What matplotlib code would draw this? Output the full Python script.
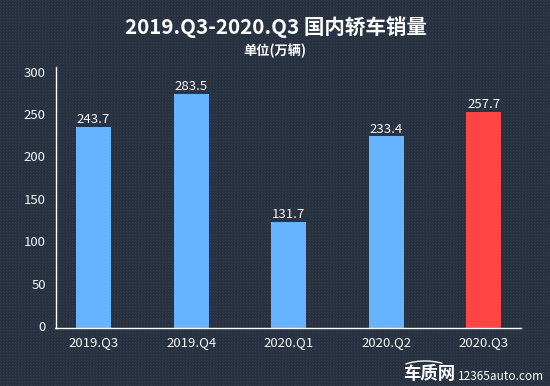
import numpy as np
import matplotlib
matplotlib.use('Agg')
import matplotlib.pyplot as plt
from matplotlib.patches import Arc
from matplotlib.transforms import ScaledTranslation

plt.rcParams['font.family'] = ['Noto Sans CJK SC', 'DejaVu Sans']

# Data
quarters = ['2019.Q3', '2019.Q4', '2020.Q1', '2020.Q2', '2020.Q3']
bar_heights = [237, 276, 125, 226, 255]  # as drawn in the picture
bar_labels = ['243.7', '283.5', '131.7', '233.4', '257.7']
bar_colors = ['#66b3ff', '#66b3ff', '#66b3ff', '#66b3ff', '#ff4444']
y_ticks = [0, 50, 100, 150, 200, 250, 300]

W, H = 550, 386
fig = plt.figure(figsize=(W/100, H/100), dpi=100, facecolor='#283242')

# dotted background texture
tex = np.zeros((H, W, 3)) + np.array([0x27, 0x31, 0x40])/255
tex[::3, ::3] = np.array([0x33, 0x3d, 0x4d])/255
tex[1::3, 1::3] = np.array([0x2e, 0x38, 0x48])/255
fig.figimage(tex, 0, 0, zorder=0)

ax = fig.add_axes([55.5/W, 1-328/H, (521-55.5)/W, (328-67)/H])
ax.set_zorder(1)
ax.patch.set_alpha(0)
x = np.arange(len(quarters))
ax.bar(x, bar_heights, width=0.36, color=bar_colors)
ax.set_xlim(-0.39, 4.38)
ax.set_ylim(0, 308)
for s in ['top', 'right']:
    ax.spines[s].set_visible(False)
for s in ['left', 'bottom']:
    ax.spines[s].set_color('white')
    ax.spines[s].set_linewidth(1)
ax.set_xticks(x, quarters)
ax.set_yticks(y_ticks)
ax.tick_params(length=0, colors='#f7f7f7', labelsize=9.5)
ax.tick_params(axis='x', pad=6)
ax.tick_params(axis='y', pad=7)
# y labels sit a little above their ticks
for lab in ax.get_yticklabels():
    lab.set_transform(lab.get_transform() + ScaledTranslation(0, 1.5/72, fig.dpi_scale_trans))
for i in x:
    ax.annotate(bar_labels[i], (i, bar_heights[i]), xytext=(0, 0.5), textcoords='offset points',
                ha='center', va='bottom', color='#f7f7f7', fontsize=9.5)

fig.text(276/W, 1-27/H, '2019.Q3-2020.Q3 国内轿车销量', ha='center', va='center',
         color='white', fontsize=14.8, fontweight='bold', zorder=2)
fig.text(275/W, 1-51/H, '单位(万辆)', ha='center', va='center', color='white',
         fontsize=9.5, fontweight='bold', zorder=2)

# watermark
fig.text(429/W, 1-374/H, '车质网', ha='center', va='center', color='white',
         fontsize=12.5, fontweight='bold', zorder=2)
fig.text(501/W, 1-376/H, '12365auto.com', ha='center', va='center', color='white',
         fontsize=8.5, zorder=2)
fig.add_artist(Arc((425/W, 1-372/H), 56/W, 22/H, theta1=35, theta2=150, color='white', lw=1, zorder=2))

fig.savefig('out.png', dpi=100, facecolor=fig.get_facecolor())
